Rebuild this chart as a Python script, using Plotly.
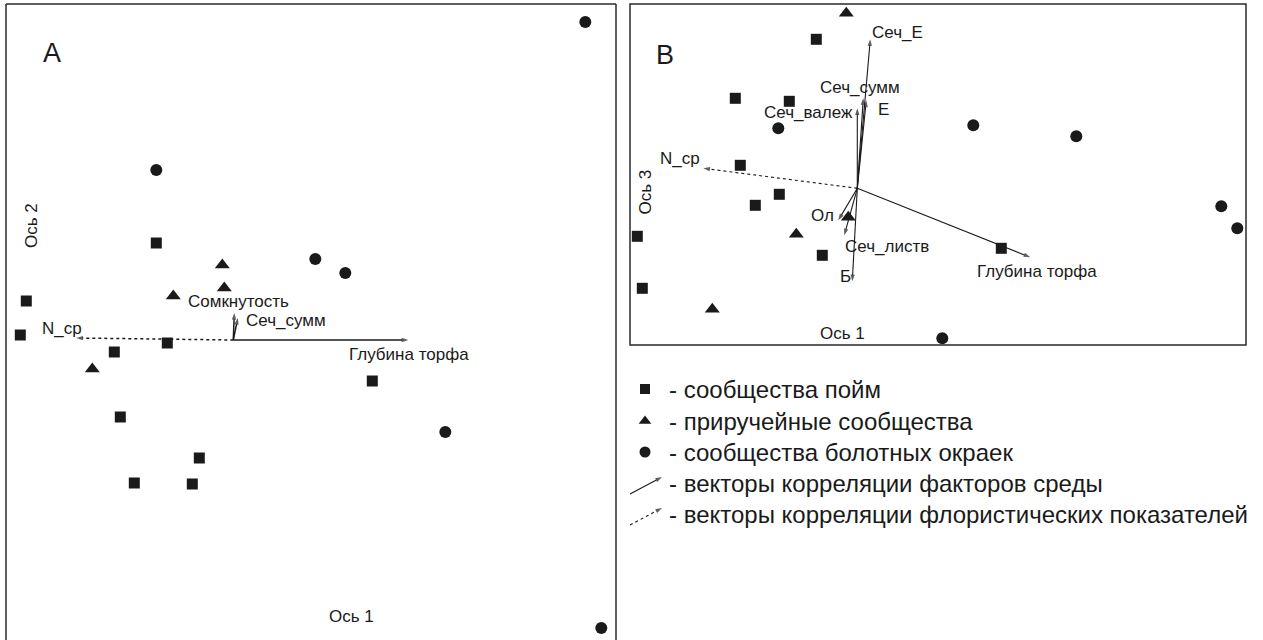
import plotly.graph_objects as go

W, H = 1263, 640
FONT = "Liberation Sans, Arial, sans-serif"
INK = "#1a1a1a"

# ---------------- Panel A (Ось 1 x Ось 2) ----------------
a_sq_x = [-0.77, -2.07, -2.13, -0.66, -1.19, 1.39, -1.13, -0.34, -0.99, -0.41]
a_sq_y = [0.97, 0.39, 0.05, -0.03, -0.12, -0.41, -0.77, -1.18, -1.43, -1.44]
a_tr_x = [-0.11, -0.09, -0.60, -1.41]
a_tr_y = [0.75, 0.52, 0.44, -0.29]
a_ci_x = [3.52, -0.77, 0.82, 1.12, 2.12, 3.68]
a_ci_y = [3.18, 1.70, 0.81, 0.67, -0.92, -2.88]

a_vec_names = ["Глубина торфа", "Сомкнутость", "Сеч_сумм", "N_ср"]
a_vec_x = [1.75, 0.01, 0.045, -1.57]
a_vec_y = [0.0, 0.27, 0.22, 0.02]
a_vec_dotted = [False, False, False, True]
a_lab_x = [1.757, 0.052, 0.525, -1.718]
a_lab_y = [-0.14, 0.385, 0.20, 0.12]

# ---------------- Panel B (Ось 1 x Ось 3) ----------------
b_sq_x = [-0.41, -1.22, -0.68, -1.17, -0.78, -1.02, -2.20, -0.35, -2.15, 1.44]
b_sq_y = [1.49, 0.90, 0.87, 0.23, -0.06, -0.17, -0.48, -0.67, -1.00, -0.60]
b_tr_x = [-0.11, -0.09, -0.61, -1.45]
b_tr_y = [1.75, -0.29, -0.46, -1.21]
b_ci_x = [-0.79, 1.16, 2.19, 3.64, 3.80, 0.85]
b_ci_y = [0.60, 0.63, 0.52, -0.18, -0.40, -1.50]

b_vec_names = ["Глубина торфа", "Сеч_Е", "Сеч_сумм", "Е", "Сеч_валеж",
               "Ол", "Сеч_листв", "Б", "N_ср"]
b_vec_x = [1.73, 0.13, 0.06, 0.09, 0.0, -0.19, -0.13, -0.05, -1.54]
b_vec_y = [-0.69, 1.49, 0.90, 0.88, 0.80, -0.32, -0.47, -0.93, 0.20]
b_vec_dotted = [False] * 8 + [True]
b_lab_x = [1.80, 0.397, 0.022, 0.26, -0.493, -0.353, 0.294, -0.123, -1.773]
b_lab_y = [-0.834, 1.56, 1.01, 0.79, 0.76, -0.267, -0.584, -0.884, 0.30]

legend_labels = [
    "- сообщества пойм",
    "- приручейные сообщества",
    "- сообщества болотных окраек",
    "- векторы корреляции факторов среды",
    "- векторы корреляции флористических показателей",
]


def px(x):
    return x / W


def py(y):
    return 1 - y / H


fig = go.Figure()


def add_points(xs, ys, symbol, size, xa, ya):
    fig.add_trace(go.Scatter(x=xs, y=ys, mode="markers", xaxis=xa, yaxis=ya,
                             marker=dict(symbol=symbol, size=size, color=INK,
                                         line=dict(width=0)),
                             hoverinfo="skip", showlegend=False))


def add_vectors(vx, vy, dotted, xa, ya, width):
    for x, y, d in zip(vx, vy, dotted):
        fig.add_trace(go.Scatter(
            x=[0, x], y=[0, y], mode="lines+markers", xaxis=xa, yaxis=ya,
            line=dict(color=INK, width=width, dash="dot" if d else "solid"),
            marker=dict(symbol="arrow", size=[0, 7], angleref="previous",
                        color=INK, line=dict(width=0)),
            hoverinfo="skip", showlegend=False))


# Panel A
add_vectors(a_vec_x, a_vec_y, a_vec_dotted, "x", "y", 1.5)
add_points(a_sq_x, a_sq_y, "square", 11, "x", "y")
add_points(a_tr_x, a_tr_y, "triangle-up", 13, "x", "y")
add_points(a_ci_x, a_ci_y, "circle", 12, "x", "y")

# Panel B
add_vectors(b_vec_x, b_vec_y, b_vec_dotted, "x2", "y2", 1.1)
add_points(b_sq_x, b_sq_y, "square", 11, "x2", "y2")
add_points(b_tr_x, b_tr_y, "triangle-up", 13, "x2", "y2")
add_points(b_ci_x, b_ci_y, "circle", 12, "x2", "y2")

# Legend glyphs (pixel-space axis)
leg_rows = [389, 421, 452, 483, 514]
leg_sym = ["square", "triangle-up", "circle"]
leg_size = [10, 11, 11]
for i, (s, sz) in enumerate(zip(leg_sym, leg_size)):
    fig.add_trace(go.Scatter(x=[645], y=[leg_rows[i]], mode="markers",
                             xaxis="x3", yaxis="y3",
                             marker=dict(symbol=s, size=sz, color=INK, line=dict(width=0)),
                             hoverinfo="skip", showlegend=False))
for i, d in [(3, False), (4, True)]:
    r = leg_rows[i]
    fig.add_trace(go.Scatter(x=[630, 662], y=[r + 11, r - 6], mode="lines+markers",
                             xaxis="x3", yaxis="y3",
                             line=dict(color=INK, width=1.1, dash="dot" if d else "solid"),
                             marker=dict(symbol="arrow", size=[0, 7], angleref="previous",
                                         color=INK, line=dict(width=0)),
                             hoverinfo="skip", showlegend=False))

annotations = []
for name, x, y in zip(a_vec_names, a_lab_x, a_lab_y):
    annotations.append(dict(x=x, y=y, xref="x", yref="y", text=name, showarrow=False,
                            font=dict(size=17, color=INK, family=FONT)))
for name, x, y in zip(b_vec_names, b_lab_x, b_lab_y):
    annotations.append(dict(x=x, y=y, xref="x2", yref="y2", text=name, showarrow=False,
                            font=dict(size=17, color=INK, family=FONT)))
for lab, r in zip(legend_labels, leg_rows):
    annotations.append(dict(x=px(667), y=py(r), xref="paper", yref="paper", text=lab,
                            showarrow=False, xanchor="left", yanchor="middle",
                            font=dict(size=24, color=INK, family=FONT)))

# panel letters and axis titles
annotations += [
    dict(x=px(41), y=py(36), text="A", font=dict(size=27, color=INK, family=FONT)),
    dict(x=px(665), y=py(38), text="B", font=dict(size=27, color=INK, family=FONT)),
    dict(x=px(327), y=py(628), text="Ось 1", font=dict(size=17, color=INK, family=FONT)),
    dict(x=px(20), y=py(201), text="Ось 2", textangle=-90,
         font=dict(size=17, color=INK, family=FONT)),
    dict(x=px(867), y=py(333), text="Ось 1", font=dict(size=17, color=INK, family=FONT)),
    dict(x=px(645), y=py(168), text="Ось 3", textangle=-90,
         font=dict(size=17, color=INK, family=FONT)),
]
for a in annotations[-6:]:
    a.update(xref="paper", yref="paper", showarrow=False)

frame = dict(color="#2a2a2a", width=1.5)
shapes = [
    # panel A frame (open at bottom)
    dict(type="line", xref="paper", yref="paper", x0=px(6), x1=px(6), y0=py(4), y1=py(640), line=frame),
    dict(type="line", xref="paper", yref="paper", x0=px(6), x1=px(616), y0=py(4), y1=py(4), line=frame),
    dict(type="line", xref="paper", yref="paper", x0=px(616), x1=px(616), y0=py(4), y1=py(640), line=frame),
    # panel B frame
    dict(type="rect", xref="paper", yref="paper", x0=px(630), x1=px(1246), y0=py(345), y1=py(4), line=frame),
]

hidden = dict(showgrid=False, zeroline=False, showticklabels=False, showline=False,
              ticks="", fixedrange=True)

fig.update_layout(
    width=W, height=H, margin=dict(l=0, r=0, t=0, b=0, pad=0),
    paper_bgcolor="white", plot_bgcolor="rgba(0,0,0,0)",
    showlegend=False, font=dict(family=FONT, color=INK),
    xaxis=dict(domain=[px(6), px(616)], range=[-2.273, 3.827], **hidden),
    yaxis=dict(domain=[py(640), py(3)], range=[-3.0, 3.37], **hidden),
    xaxis2=dict(domain=[px(630), px(1246)], range=[-2.273, 3.887], anchor="y2", **hidden),
    yaxis2=dict(domain=[py(345), py(4)], range=[-1.567, 1.843], anchor="x2", **hidden),
    xaxis3=dict(domain=[0, 1], range=[0, W], anchor="y3", **hidden),
    yaxis3=dict(domain=[0, 1], range=[H, 0], anchor="x3", **hidden),
    annotations=annotations, shapes=shapes,
)

fig.write_html("out.html", config={"displayModeBar": False})
